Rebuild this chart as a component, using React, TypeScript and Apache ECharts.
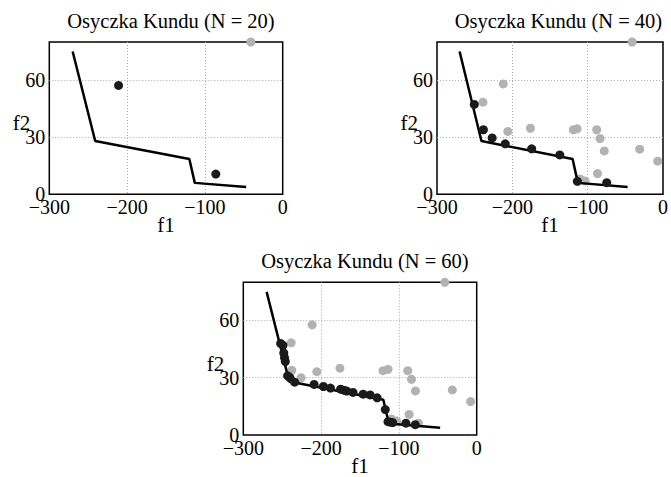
import React, { useEffect, useRef } from "react";
import * as echarts from "echarts";

// Pareto front (true) polyline
const frontF1 = [-270, -241, -120, -113, -47];
const frontF2 = [75, 28, 18.5, 6, 3.8];

// N = 20
const n20Front: number[][] = [[-211, 57.2], [-86, 10.6]];
const n20Other: number[][] = [[-41, 80]];

// N = 40
const n40Front: number[][] = [
  [-250.5, 47.2], [-238.4, 33.9], [-226.8, 29.6], [-209.4, 26.5],
  [-174.3, 23.9], [-137, 20.7], [-113.7, 6.8], [-74.7, 6.1],
];
const n40Other: number[][] = [
  [-41, 80], [-212, 58], [-239, 48.4], [-206, 33], [-176, 34.7],
  [-119, 33.9], [-114, 34.4], [-88, 33.9], [-83.5, 29.3], [-78, 22.8],
  [-31, 23.7], [-7, 17.4], [-87, 10.9], [-110, 8.1], [-103.5, 7],
];

// N = 60
const n60Front: number[][] = [
  [-252, 48], [-249, 47], [-248, 43], [-247, 40.5], [-246, 38.5],
  [-243, 31], [-240, 30], [-234, 27.7], [-209, 26.5], [-197, 25.4],
  [-188, 24.6], [-175, 24], [-171, 23.5], [-167, 23], [-159, 22.3],
  [-146, 21.4], [-137, 21], [-128, 19.5], [-117.5, 13.3], [-114, 7],
  [-111, 6.7], [-108, 6.5], [-91, 6.2], [-79, 5.4],
];
const n60Other: number[][] = [
  [-41, 80], [-211.5, 57.7], [-238.5, 48.3], [-237.7, 33.9], [-225.7, 30],
  [-205.5, 33.2], [-175.8, 35], [-120.4, 33.7], [-114, 34.4], [-88.6, 33.7],
  [-83.8, 29.2], [-78.7, 23.1], [-31.4, 23.6], [-7.8, 17.5], [-86.8, 10.8],
  [-109.6, 8.4], [-103, 7.3], [-75, 6.2],
];

const titles = ["Osyczka Kundu (N = 20)", "Osyczka Kundu (N = 40)", "Osyczka Kundu (N = 60)"];
const xTicks = { min: -300, max: 0, interval: 100 };
const yTicks = { min: 0, max: 80, interval: 30 };

const FONT = "Liberation Serif";

export default function App() {
  const ref = useRef<HTMLDivElement>(null);
  useEffect(() => {
    if (!ref.current) return;
    const chart = echarts.init(ref.current, undefined, { renderer: "svg" });
    const grids = [
      { left: 49.3, top: 42, width: 233.4, height: 152.3 },
      { left: 437, top: 42, width: 233, height: 152.3 },
      { left: 243.3, top: 282.3, width: 233.4, height: 152.7 },
    ];
    const sets = [
      [n20Front, n20Other],
      [n40Front, n40Other],
      [n60Front, n60Other],
    ];
    const fmtX = (v: number) => (v < 0 ? "\u2212" + Math.abs(v) : String(v));
    const fmtY = (v: number) => (v === 80 ? "" : String(v));
    const front = frontF1.map((x, i) => [x, frontF2[i]]);
    const series: any[] = [];
    sets.forEach(([blk, gry], i) => {
      series.push({
        type: "scatter", xAxisIndex: i, yAxisIndex: i, data: gry,
        symbolSize: 9, itemStyle: { color: "#b2b2b2", opacity: 1 }, clip: false, z: 2,
      });
      series.push({
        type: "line", xAxisIndex: i, yAxisIndex: i, data: front,
        showSymbol: false, lineStyle: { color: "#000", width: 2.5 }, z: 3,
      });
      series.push({
        type: "scatter", xAxisIndex: i, yAxisIndex: i, data: blk,
        symbolSize: 9, itemStyle: { color: "#1a1a1a", opacity: 1 }, clip: false, z: 4,
      });
    });
    const nameStyle = { fontFamily: FONT, fontSize: 21, color: "#000" };
    chart.setOption({
      animation: false,
      title: titles.map((t, i) => ({
        text: t,
        left: grids[i].left + grids[i].width / 2,
        top: grids[i].top - 37,
        textAlign: "center",
        textStyle: { fontFamily: FONT, fontSize: 20.5, fontWeight: "normal", color: "#000" },
      })),
      grid: grids.map((g) => ({
        ...g, show: true, borderColor: "#000", borderWidth: 1.5, backgroundColor: "transparent",
      })),
      xAxis: grids.map((_, i) => ({
        gridIndex: i, type: "value", ...xTicks,
        axisLine: { show: false }, axisTick: { show: false },
        splitLine: { show: true, showMinLine: false, showMaxLine: false, lineStyle: { type: [1, 2], color: "#aaa", width: 1 } },
        axisLabel: { formatter: fmtX, fontFamily: FONT, fontSize: 20, color: "#000", margin: 3 },
        name: "f1", nameLocation: "middle", nameGap: 20, nameMoveOverlap: false, nameTextStyle: nameStyle,
      })),
      yAxis: grids.map((_, i) => ({
        gridIndex: i, type: "value", ...yTicks,
        axisLine: { show: false }, axisTick: { show: false },
        splitLine: { show: true, showMinLine: false, showMaxLine: false, lineStyle: { type: [1, 2], color: "#aaa", width: 1 } },
        axisLabel: { formatter: fmtY, showMaxLabel: false, fontFamily: FONT, fontSize: 20, color: "#000", margin: 4 },
        name: "f2", nameLocation: "middle", nameRotate: 0, nameGap: 19, nameMoveOverlap: false,
        nameTextStyle: { ...nameStyle, verticalAlign: "top", lineHeight: 10 },
      })),
      series,
    });
    return () => chart.dispose();
  }, []);
  return (
    <div
      ref={ref}
      style={{ position: "fixed", left: 0, top: 0, width: 671, height: 477, background: "#fff" }}
    />
  );
}
